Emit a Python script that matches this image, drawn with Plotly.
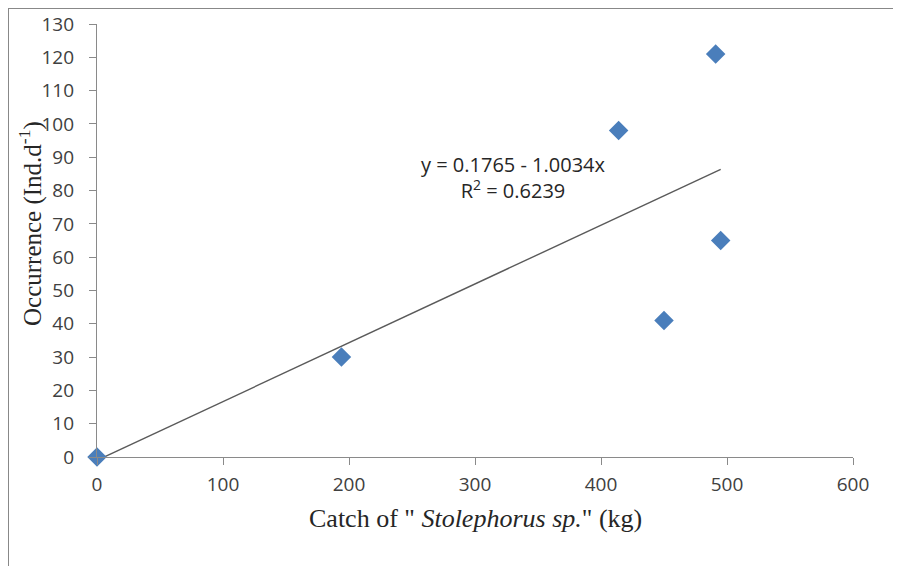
import plotly.graph_objects as go

# Data
catch_kg = [0, 194, 414, 450, 491, 495]
occurrence = [0, 30, 98, 41, 121, 65]

# Trendline as printed on the chart (slope, intercept)
trend_slope = 0.1765
trend_intercept = -1.0034
trend_x = [0, 495]
trend_y = [trend_slope * v + trend_intercept for v in trend_x]

x_ticks = [0, 100, 200, 300, 400, 500, 600]
y_ticks = [0, 10, 20, 30, 40, 50, 60, 70, 80, 90, 100, 110, 120, 130]

# The page body adds an 8px offset, so the figure is 8px smaller and shifted
OFF = 8
W, H = 901 - OFF, 566 - OFF
L, T = 97 - OFF, 24 - OFF
R = W - (853 - OFF)
B = H - (457 - OFF)
PW, PH = W - L - R, H - T - B


def px_x(p):  # page pixel -> paper x
    return (p - OFF - L) / PW


def px_y(p):  # page pixel -> paper y
    return (H - B - (p - OFF)) / PH


tick_font = dict(family="Open Sans, Lato, sans-serif", size=19, color="#404040")
title_family = "Liberation Serif, Times New Roman, serif"
axis_col = "#8a8a8a"

fig = go.Figure()
fig.add_trace(go.Scatter(
    x=trend_x, y=trend_y, mode="lines",
    line=dict(color="#5a5a5a", width=1.4),
    hoverinfo="skip", showlegend=False,
))
fig.add_trace(go.Scatter(
    x=catch_kg, y=occurrence, mode="markers",
    marker=dict(symbol="diamond", size=15, color="#4a7ebb", line=dict(width=0)),
    showlegend=False, cliponaxis=False,
))

fig.update_layout(
    template="none",
    width=W, height=H,
    margin=dict(l=L, r=R, t=T, b=B),
    paper_bgcolor="white", plot_bgcolor="white",
    xaxis=dict(
        range=[0, 600], tickvals=x_ticks, ticktext=[str(v) for v in x_ticks],
        showgrid=False, zeroline=False, showline=True, linecolor=axis_col, linewidth=1.3,
        ticks="outside", ticklen=7, tickcolor=axis_col, tickwidth=1.3,
        tickfont=tick_font, automargin=False, ticklabelstandoff=3,
    ),
    yaxis=dict(
        range=[0, 130], tickvals=y_ticks, ticktext=[str(v) for v in y_ticks],
        showgrid=False, zeroline=False, showline=True, linecolor=axis_col, linewidth=1.3,
        ticks="outside", ticklen=7, tickcolor=axis_col, tickwidth=1.3,
        tickfont=tick_font, automargin=False, ticklabelstandoff=11,
    ),
    annotations=[
        dict(x=px_x(513), y=px_y(177), xref="paper", yref="paper",
             xanchor="center", yanchor="middle",
             text="y = 0.1765 - 1.0034x<br>R<sup>2</sup> = 0.6239",
             showarrow=False, align="center",
             font=dict(family="Open Sans, Lato, sans-serif", size=20, color="#262626")),
        dict(x=px_x(475), y=px_y(518), xref="paper", yref="paper",
             xanchor="center", yanchor="middle",
             text='Catch of " <i>Stolephorus sp.</i>" (kg)', showarrow=False,
             font=dict(family=title_family, size=26, color="#262626")),
        dict(x=px_x(30), y=px_y(224), xref="paper", yref="paper",
             xanchor="center", yanchor="middle",
             text="Occurrence (Ind.d<sup>-1</sup>)", showarrow=False, textangle=-90,
             font=dict(family=title_family, size=25, color="#262626")),
    ],
    shapes=[
        dict(type="line", xref="paper", yref="paper",
             x0=px_x(8), x1=px_x(905), y0=px_y(8), y1=px_y(8),
             line=dict(color="#888888", width=2)),
        dict(type="line", xref="paper", yref="paper",
             x0=px_x(8), x1=px_x(8), y0=px_y(8), y1=px_y(570),
             line=dict(color="#888888", width=2)),
    ],
)

fig.write_html("out.html")
